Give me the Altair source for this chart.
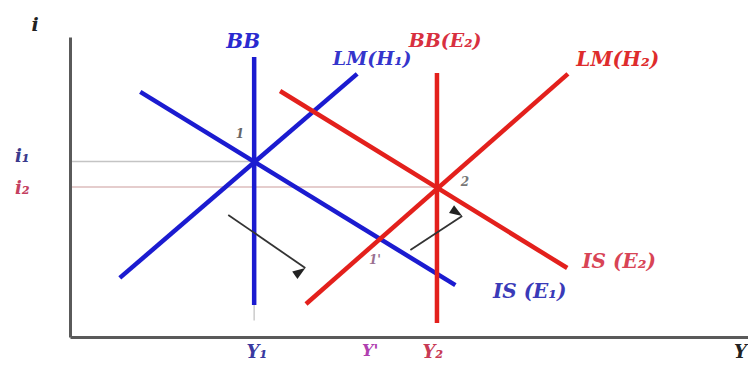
import math
import altair as alt
import pandas as pd

BLUE = "#1b1bd0"
RED = "#e3201c"

# ---- curves: endpoints in (output Y, interest rate i) units, 0-100 ----
curve_names = ["BB", "IS(E1)", "LM(H1)", "BB(E2)", "IS(E2)", "LM(H2)"]
curve_x0 = [27.0, 10.3, 7.3, 53.8, 30.8, 34.6]
curve_y0 = [93.3, 81.7, 19.7, 88.0, 82.0, 11.0]
curve_x1 = [27.0, 56.5, 42.1, 53.8, 72.9, 73.0]
curve_y1 = [10.7, 17.3, 87.7, 4.7, 23.0, 87.7]
curve_colors = [BLUE, BLUE, BLUE, RED, RED, RED]

# ---- faint guide lines ----
guide_x0 = [0.3, 0.3, 27.0]
guide_y0 = [58.5, 50.0, 10.7]
guide_x1 = [27.0, 53.8, 27.0]
guide_y1 = [58.5, 50.0, 5.5]
guide_colors = ["#c4c4c4", "#dcbcbc", "#cfcfcf"]

# ---- arrows (start -> tip) ----
arrow_x0 = [23.2, 49.9]
arrow_y0 = [40.7, 29.0]
arrow_x1 = [34.5, 57.5]
arrow_y1 = [23.0, 40.3]

# ---- labels ----
label_text = ["i", "BB", "LM(H₁)", "BB(E₂)", "LM(H₂)", "IS (E₂)", "IS (E₁)",
              "i₁", "i₂", "Y₁", "Y'", "Y₂", "Y", "1", "2", "1'"]
label_x = [-5.1, 25.4, 44.3, 55.0, 80.3, 80.5, 67.4,
           -7.0, -7.0, 27.4, 44.0, 53.2, 98.3, 24.9, 57.9, 44.7]
label_y = [104.0, 98.3, 92.7, 98.7, 92.3, 25.0, 15.0,
           60.0, 49.3, -5.3, -4.7, -5.3, -5.3, 67.7, 51.7, 25.7]
label_colors = ["#222222", "#2a2ad0", "#3535cc", "#d83040", "#de2c2c", "#d84455", "#3a3ab8",
                "#3a3a8c", "#c44060", "#3a3aa0", "#b040b0", "#c83a55", "#222222",
                "#666666", "#777777", "#9a7090"]
label_sizes = [19, 20, 19, 19, 20, 20, 20, 18, 18, 18, 16, 18, 18, 12, 12, 12]

W, H = 678, 300
XD, YD = [0, 99.4], [0, 100]

curves = pd.DataFrame({"name": curve_names, "x0": curve_x0, "y0": curve_y0,
                       "x1": curve_x1, "y1": curve_y1, "c": curve_colors})
guides = pd.DataFrame({"x0": guide_x0, "y0": guide_y0, "x1": guide_x1,
                       "y1": guide_y1, "c": guide_colors})
arrows = pd.DataFrame({"x0": arrow_x0, "y0": arrow_y0, "x1": arrow_x1, "y1": arrow_y1})
# arrowhead rotation from the on-screen direction
px_per_x = W / (XD[1] - XD[0])
px_per_y = H / (YD[1] - YD[0])
arrows["ang"] = [
    (math.degrees(math.atan2((a - b) * px_per_x, (d - c) * px_per_y)) + 360) % 360
    for a, b, c, d in zip(arrows.x1, arrows.x0, arrows.y1, arrows.y0)
]
labels = pd.DataFrame({"t": label_text, "x": label_x, "y": label_y,
                       "c": label_colors, "s": label_sizes})

xs = alt.Scale(domain=XD, nice=False, zero=False)
ys = alt.Scale(domain=YD, nice=False, zero=False)
ax_x = alt.Axis(domain=True, labels=False, ticks=False, grid=False, title=None,
                domainColor="#5a5a5a", domainWidth=3)
ax_y = alt.Axis(domain=True, labels=False, ticks=False, grid=False, title=None,
                domainColor="#5a5a5a", domainWidth=3)

guide_layer = alt.Chart(guides).mark_rule(strokeWidth=1.6).encode(
    x=alt.X("x0:Q", scale=xs, axis=ax_x), x2="x1:Q",
    y=alt.Y("y0:Q", scale=ys, axis=ax_y), y2="y1:Q",
    color=alt.Color("c:N", scale=None),
)

blue_layer = alt.Chart(curves[curves.c == BLUE]).mark_rule(strokeWidth=4.5).encode(
    x=alt.X("x0:Q", scale=xs), x2="x1:Q",
    y=alt.Y("y0:Q", scale=ys), y2="y1:Q",
    color=alt.Color("c:N", scale=None),
)
red_layer = alt.Chart(curves[curves.c == RED]).mark_rule(strokeWidth=4.5).encode(
    x=alt.X("x0:Q", scale=xs), x2="x1:Q",
    y=alt.Y("y0:Q", scale=ys), y2="y1:Q",
    color=alt.Color("c:N", scale=None),
)

arrow_shaft = alt.Chart(arrows).mark_rule(strokeWidth=1.8, color="#333333").encode(
    x=alt.X("x0:Q", scale=xs), x2="x1:Q",
    y=alt.Y("y0:Q", scale=ys), y2="y1:Q",
)
arrow_head = alt.Chart(arrows).mark_point(
    shape="M0,0L0.36,1.0L-0.36,1.0Z", filled=True, size=650, color="#222222", opacity=1
).encode(
    x=alt.X("x1:Q", scale=xs), y=alt.Y("y1:Q", scale=ys),
    angle=alt.Angle("ang:Q", scale=None),
)

text_layer = alt.Chart(labels).mark_text(
    font="DejaVu Serif", fontStyle="italic", fontWeight="bold",
    align="center", baseline="middle",
).encode(
    x=alt.X("x:Q", scale=xs), y=alt.Y("y:Q", scale=ys),
    text="t:N", color=alt.Color("c:N", scale=None), size=alt.Size("s:Q", scale=None),
)

chart = alt.layer(
    guide_layer, blue_layer, red_layer, arrow_shaft, arrow_head, text_layer
).properties(
    width=W, height=H,
    autosize=alt.AutoSizeParams(type="none"),
    padding={"left": 62, "top": 29, "right": 0, "bottom": 26},
    background="white",
).configure_view(stroke=None)

chart.save("out.html", embed_options={"renderer": "svg", "actions": False})
